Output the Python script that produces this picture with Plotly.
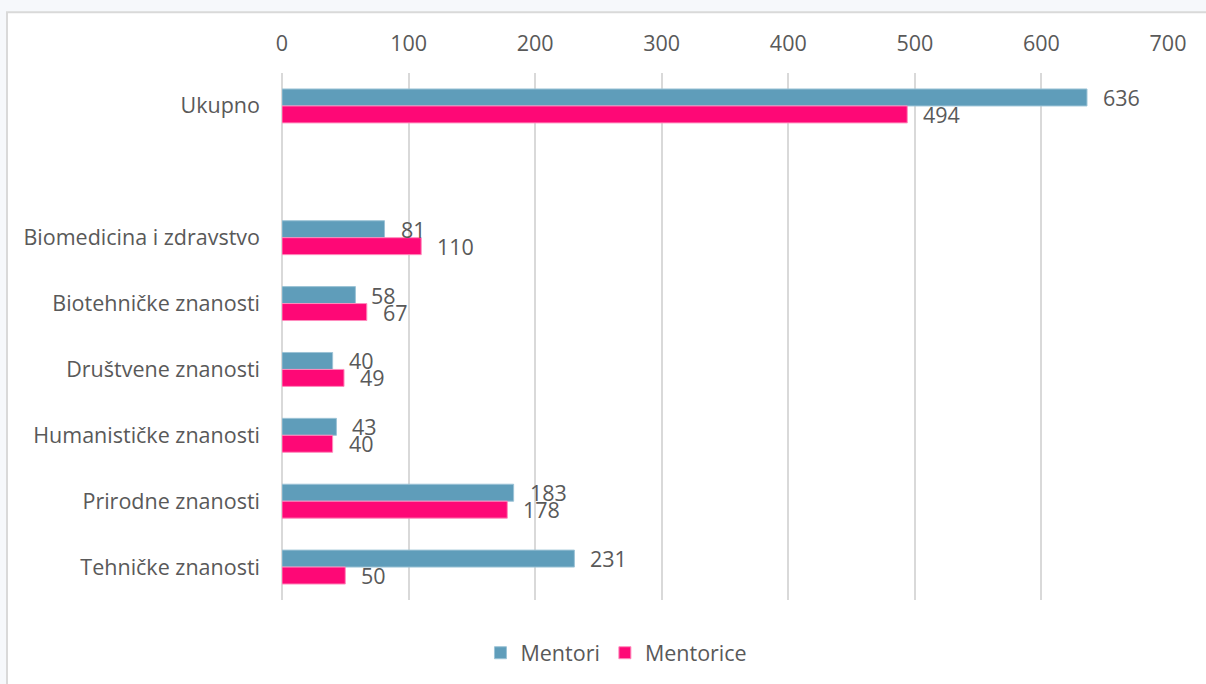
import plotly.graph_objects as go

# Categories (top to bottom); "" is the empty spacer row after Ukupno
categories = ["Ukupno", "", "Biomedicina i zdravstvo", "Biotehničke znanosti",
              "Društvene znanosti", "Humanističke znanosti",
              "Prirodne znanosti", "Tehničke znanosti"]
mentori = [636, None, 81, 58, 40, 43, 183, 231]
mentorice = [494, None, 110, 67, 49, 40, 178, 50]
x_ticks = [0, 100, 200, 300, 400, 500, 600, 700]

BLUE = "#5f9dba"
PINK = "#fe0876"
TXT = "#595959"
FONT = "Open Sans"
FS = 21.5

pos = list(range(len(categories)))

fig = go.Figure()
fig.add_trace(go.Bar(y=pos, x=mentori, orientation="h", name="Mentori",
                     marker=dict(color=BLUE, line=dict(color="#9cc3d6", width=1))))
fig.add_trace(go.Bar(y=pos, x=mentorice, orientation="h", name="Mentorice",
                     marker=dict(color=PINK, line=dict(color="#ff8cbd", width=1))))

# value labels, right of each bar
half = 0.129
for p, m, f in zip(pos, mentori, mentorice):
    if m is not None:
        fig.add_annotation(x=m, y=p - half, text=str(m), showarrow=False,
                           xanchor="left", xshift=14, font=dict(size=FS, color=TXT))
    if f is not None:
        fig.add_annotation(x=f, y=p + half, text=str(f), showarrow=False,
                           xanchor="left", xshift=14, font=dict(size=FS, color=TXT))

# white chart card with light border on a pale page
fig.add_shape(type="rect", xref="paper", yref="paper",
              x0=-0.3104, x1=1.2, y0=-0.3, y1=1.1155,
              fillcolor="white", line=dict(color="#d9d9d9", width=2), layer="below")

fig.update_layout(
    width=1206, height=684,
    margin=dict(l=282, r=38, t=73, b=83),
    paper_bgcolor="#f6f8fb", plot_bgcolor="white",
    font=dict(family=FONT, size=FS, color=TXT),
    barmode="group", bargap=0.485, bargroupgap=0,
    showlegend=True,
    legend=dict(orientation="h", x=0.224, xanchor="left", y=-0.098, yanchor="middle",
                font=dict(size=FS, color=TXT), bgcolor="rgba(0,0,0,0)",
                itemwidth=30, tracegroupgap=0),
    xaxis=dict(side="top", range=[0, 700], tickvals=x_ticks, showgrid=True,
               gridcolor="#d9d9d9", gridwidth=2, zeroline=True, zerolinecolor="#d9d9d9",
               zerolinewidth=2, showline=False, ticks="", ticklabelstandoff=17,
               tickfont=dict(size=FS, color=TXT), fixedrange=True),
    yaxis=dict(tickvals=pos, ticktext=categories, range=[len(categories) - 0.5, -0.5],
               showgrid=False, zeroline=False, showline=False, ticks="",
               ticklabelstandoff=21, tickfont=dict(size=FS, color=TXT)),
)

fig.write_html("out.html", config={"displayModeBar": False},
               post_script="document.body.style.margin='0';"
                           "document.body.style.background='#f6f8fb';")
